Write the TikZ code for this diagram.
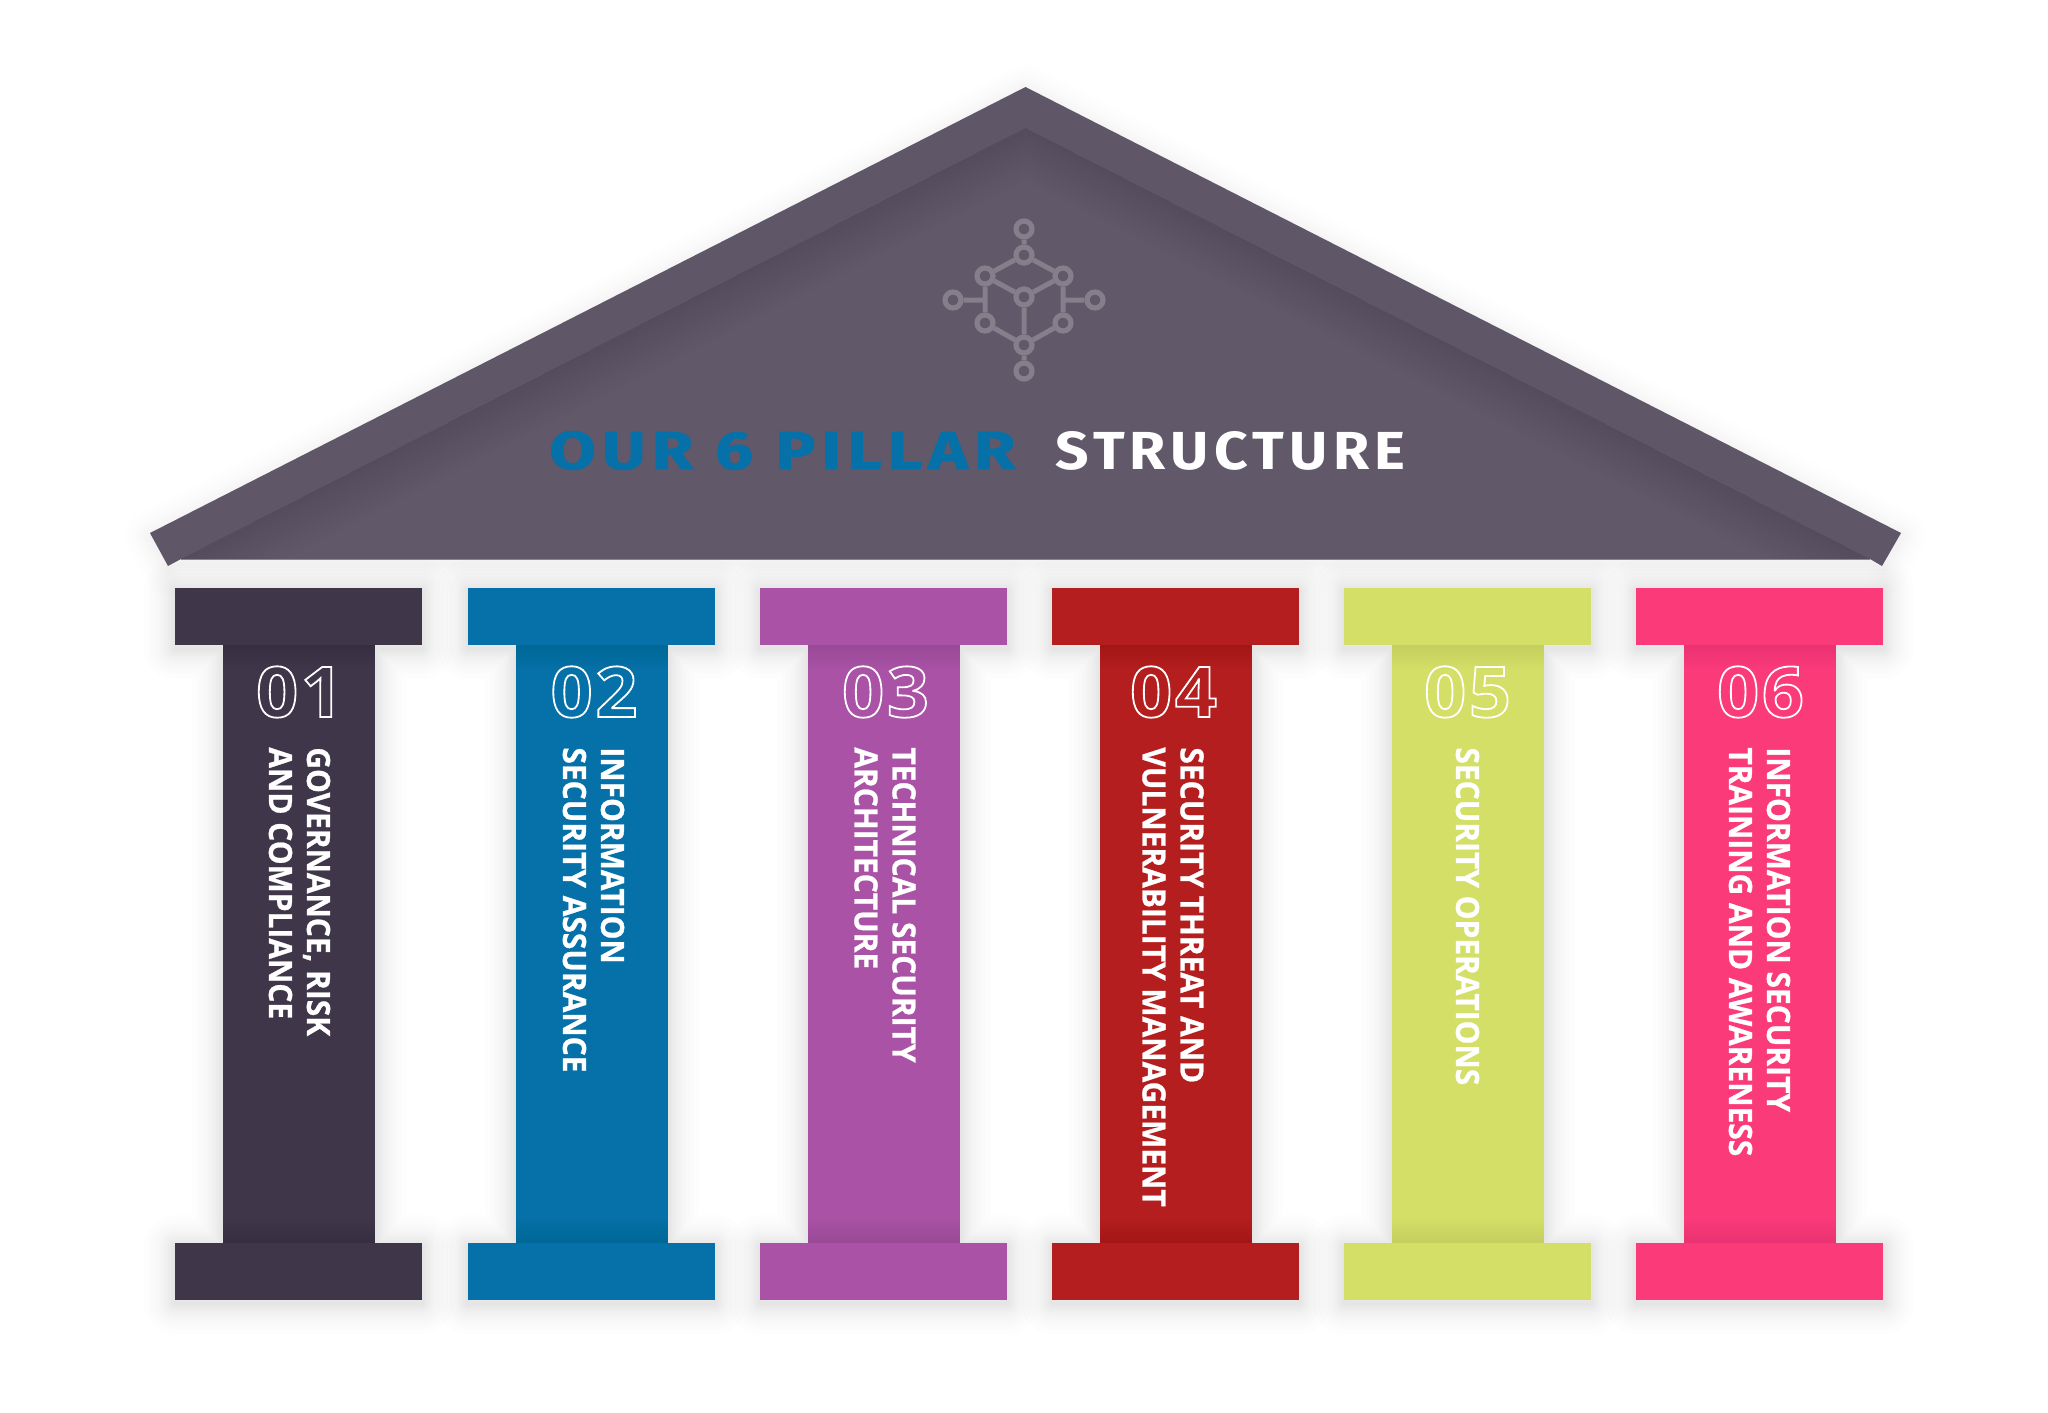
\documentclass[tikz,border=0pt]{standalone}
\usepackage{fontspec}
\usepackage{graphicx}
\setmainfont{Open Sans}
\newfontfamily\titlefont[LetterSpace=9]{Fira Sans}
\newfontfamily\titleheavy[LetterSpace=9,FakeBold=1.2]{Fira Sans}
\newfontfamily\pillarfont[FakeStretch=0.935,FakeBold=0.8]{Open Sans}
\newfontfamily\digitfont[FakeStretch=1.05,LetterSpace=4]{Open Sans}
\definecolor{roofc}{HTML}{5F5667}
\definecolor{roofin}{HTML}{615869}
\definecolor{roofline}{HTML}{8B8491}
\definecolor{iconc}{HTML}{857E8B}
\definecolor{c1}{HTML}{3F364A}
\definecolor{c2}{HTML}{0670A8}
\definecolor{c3}{HTML}{A952A6}
\definecolor{c4}{HTML}{B41E1E}
\definecolor{c5}{HTML}{D4DF67}
\definecolor{c6}{HTML}{FB3A7A}
\tikzset{
  iconnode/.style={circle,draw=iconc,line width=2.6pt,minimum size=8pt,inner sep=0pt},
  iconline/.style={draw=iconc,line width=2.5pt},
  pillartext/.style={rotate=-90,anchor=west,align=left,text=white,inner sep=0pt,
    font=\fontsize{16}{19}\selectfont\pillarfont\bfseries},
  digittext/.style={anchor=center,inner sep=0pt,font=\fontsize{35}{35}\selectfont\digitfont\bfseries},
  softedge/.style={black,opacity=0.0065,line join=round},
  softroof/.style={black,opacity=0.004,line join=round}
}
\newcommand{\outlinetext}[1]{\special{pdf:code 1 Tr 0.9 w 1 1 1 RG}#1\special{pdf:code 0 Tr}}
\newcommand{\pillarshape}[6]{%
  % #1 left x, #2 colour, #3 digits, #4 digit shift, #5 label, #6 label shift
  \begin{scope}[shift={(#1,0)}]
    \foreach \w in {3,6,9,12,15,18,22,26,31,37,44,52,62}{
      \draw[softedge,line width=\w*0.5pt]
        (0,591)--(247,591)--(247,648)--(200,648)--(200,1246)--(247,1246)--(247,1303)
        --(0,1303)--(0,1246)--(48,1246)--(48,648)--(0,648)--cycle;
    }
    \fill[#2] (48,640) rectangle (200,1250);
    \foreach \h in {3,6,...,24}{
      \fill[black,opacity=0.007] (48,645) rectangle (200,645+\h);
      \fill[black,opacity=0.007] (48,1243-\h) rectangle (200,1243);
    }
    \fill[#2] (0,588) rectangle (247,645);
    \fill[#2] (0,1243) rectangle (247,1300);
    \node[digittext] (digit#1) at (123.5+#4,692) {\outlinetext{#3}};
    \node[pillartext] (label#1) at (123.5+#6,747) {#5};
  \end{scope}
}
\begin{document}
\begin{tikzpicture}[x=0.5pt,y=-0.5pt]
\useasboundingbox (0,0) rectangle (2048,1412);
\fill[white] (0,0) rectangle (2048,1412);

% roof shadow
\foreach \w in {3,6,9,12,15,18,22,26,31,37,44,52}{
  \draw[softroof,line width=\w*0.5pt] (1025.5,90)--(1901,536)--(1882,569)--(1870,563)--(181,563)--(168,569)--(150,536)--cycle;
}
% roof
\fill[roofc] (1025.5,87)--(1901,533)--(1882,566)--(1870,559)--(181,559)--(168,566)--(150,533)--cycle;
\begin{scope}
  \clip (1025.5,128)--(1870,559)--(181,559)--cycle;
  \fill[roofin] (0,0) rectangle (2048,600);
  \foreach \w in {8,16,...,96}{
    \draw[black,opacity=0.004,line width=\w*0.5pt,line join=round] (181,559)--(1025.5,128)--(1870,559);
  }
\end{scope}
\draw[roofline,line width=0.5pt] (181,559.5)--(1870,559.5);

% icon
\node[iconnode] (itop) at (1024,229) {};
\node[iconnode] (iup) at (1024,255) {};
\node[iconnode] (iul) at (985,276) {};
\node[iconnode] (iur) at (1063,276) {};
\node[iconnode] (ic) at (1024,297) {};
\node[iconnode] (ill) at (985,323) {};
\node[iconnode] (ilr) at (1063,323) {};
\node[iconnode] (ibt) at (1024,345) {};
\node[iconnode] (ibo) at (1024,371) {};
\node[iconnode] (ile) at (953,300) {};
\node[iconnode] (iri) at (1095,300) {};
\coordinate (jl) at (985,300);
\coordinate (jr) at (1063,300);
\draw[iconline] (itop)--(iup) (iup)--(iul) (iup)--(iur) (iul)--(ic) (iur)--(ic)
  (iul)--(ill) (iur)--(ilr) (ic)--(ibt) (ill)--(ibt) (ilr)--(ibt) (ibt)--(ibo)
  (ile)--(jl) (iri)--(jr);

% title
\node[anchor=west,inner sep=0pt,text=c2] (title1) at (549,450.5)
  {\resizebox{233pt}{19pt}{\titleheavy\bfseries OUR 6 PILLAR}};
\node[anchor=west,inner sep=0pt,text=white] (title2) at (1055,450.5)
  {\resizebox{175pt}{19pt}{\titlefont\bfseries STRUCTURE}};

% pillars
\pillarshape{175}{c1}{01}{1}{GOVERNANCE, RISK\\AND COMPLIANCE}{1}
\pillarshape{467.5}{c2}{02}{3}{INFORMATION\\SECURITY ASSURANCE}{2.5}
\pillarshape{760}{c3}{03}{2}{TECHNICAL SECURITY\\ARCHITECTURE}{1.5}
\pillarshape{1052}{c4}{04}{-2}{SECURITY THREAT AND\\VULNERABILITY MANAGEMENT}{-2.5}
\pillarshape{1344}{c5}{05}{0}{SECURITY OPERATIONS}{0}
\pillarshape{1636}{c6}{06}{1}{INFORMATION SECURITY\\TRAINING AND AWARENESS}{0}
\end{tikzpicture}
\end{document}
